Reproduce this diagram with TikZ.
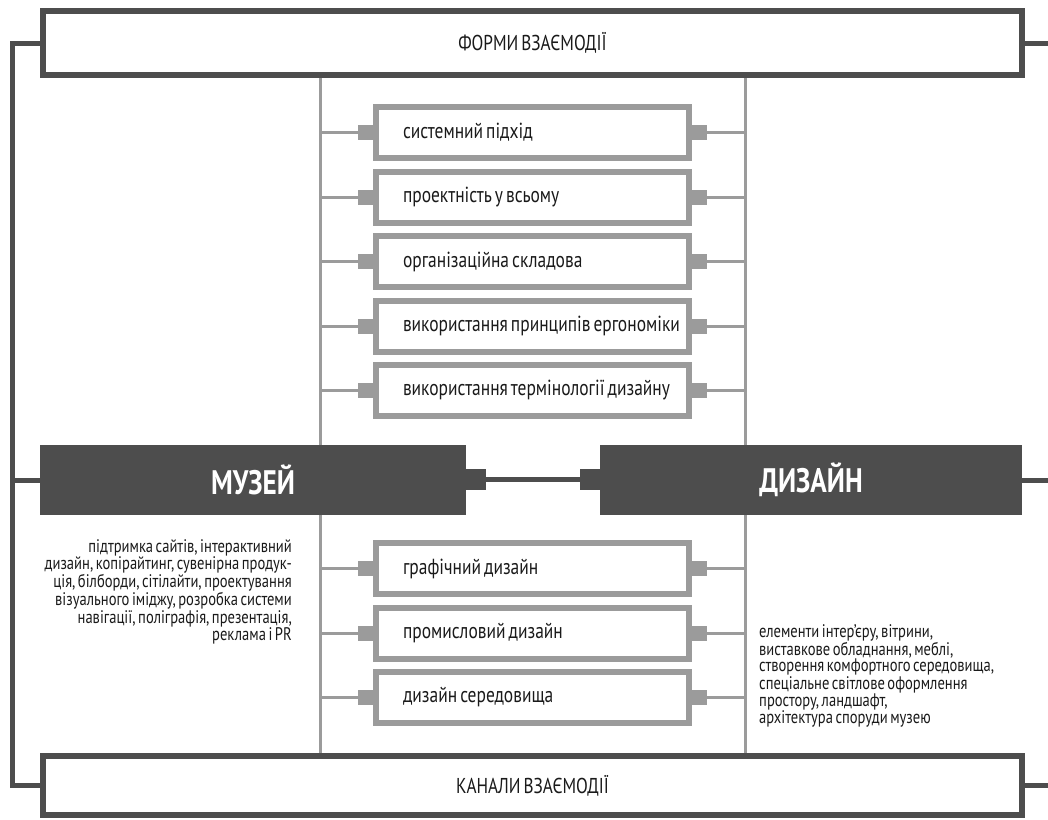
\documentclass[tikz,border=0pt]{standalone}
\usepackage{fontspec}
\setmainfont{PT Sans}[FakeStretch=0.8, WordSpace=0.65]
\definecolor{dk}{HTML}{4D4D4D}
\definecolor{gr}{HTML}{9B9B9B}
\definecolor{tx}{HTML}{1A1A1A}
\begin{document}
\begin{tikzpicture}[x=1pt,y=-1pt,
  outerbox/.style={draw=dk, line width=6pt, fill=white, inner sep=0pt,
    minimum width=979pt, text=tx, font=\fontsize{21.5}{23}\selectfont},
  darkbox/.style={fill=dk, inner sep=0pt, minimum height=70pt, text=white,
    font=\fontsize{34}{36}\selectfont\bfseries},
  dksq/.style={fill=dk, inner sep=0pt, minimum width=20pt, minimum height=21pt},
  graybox/.style={draw=gr, line width=6pt, fill=white, inner sep=0pt,
    minimum width=313pt, minimum height=51pt, text width=259pt, align=flush left,
    text=tx, font=\fontsize{21.8}{23}\selectfont},
  grsq/.style={fill=gr, inner sep=0pt, minimum size=15pt},
  dkline/.style={draw=dk, line width=5pt},
  grline/.style={draw=gr, line width=3pt},
  sidetext/.style={inner sep=0pt, text=tx, text width=250pt,
    font=\fontsize{18.2}{15.2}\selectfont}]
\useasboundingbox (0,0) rectangle (1048,819);
\fill[white] (0,0) rectangle (1048,819);

% guide coordinates
\coordinate (v1) at (320,400);
\coordinate (v2) at (745,400);
\coordinate (lb) at (12.5,480);
\coordinate (rb) at (1050,480);

% outer boxes
\node[outerbox, minimum height=64pt] (top) at (532.5,43) {ФОРМИ ВЗАЄМОДІЇ};
\node[outerbox, minimum height=59pt] (bot) at (532.5,785.5) {КАНАЛИ ВЗАЄМОДІЇ};

% central gray verticals
\draw[grline] (top.south -| v1) -- (bot.north -| v1);
\draw[grline] (top.south -| v2) -- (bot.north -| v2);

% dark main boxes
\node[darkbox, minimum width=426pt] (muz) at (253,480) {МУЗЕЙ};
\node[darkbox, minimum width=422pt] (diz) at (811,480) {ДИЗАЙН};
\node[dksq] (msq) at (476,479.5) {};
\node[dksq] (dsq) at (590,479.5) {};
\draw[dkline] (msq.east) -- (dsq.west);

% left bracket and right stubs
\draw[dkline] (top.west) -| (lb) |- (bot.west);
\draw[dkline] (lb) -- (muz.west);
\draw[dkline] (top.east) -- (top.east -| rb);
\draw[dkline] (diz.east) -- (rb);
\draw[dkline] (bot.east) -- (bot.east -| rb);

% gray item boxes
\foreach \n/\yy/\t in {
  a/132.5/{системний підхід},
  b/197/{проектність у всьому},
  c/261.5/{організаційна складова},
  d/326/{використання принципів ергономіки},
  e/390.5/{використання термінології дизайну},
  f/568.5/{графічний дизайн},
  g/633/{промисловий дизайн},
  h/697.5/{дизайн середовища}}{
  \node[grsq] (l\n) at (365.5,\yy) {};
  \node[grsq] (r\n) at (699.5,\yy) {};
  \node[graybox] (b\n) at (532.5,\yy) {\mbox{\t}};
  \draw[grline] (l\n.west) -- (l\n.west -| v1);
  \draw[grline] (r\n.east) -- (r\n.east -| v2);
}

% side texts
\node[sidetext, anchor=north east, align=flush right] (lt) at (292,539)
 {підтримка сайтів, інтерактивний\\
  дизайн, копірайтинг, сувенірна продук-\\
  ція, білборди, сітілайти, проектування\\
  візуального іміджу, розробка системи\\
  навігації, поліграфія, презентація,\\
  реклама і PR};
\node[sidetext, anchor=north west, align=flush left] (rt) at (759,624)
 {елементи інтер'єру, вітрини,\\
  виставкове обладнання, меблі,\\
  створення комфортного середовища,\\
  спеціальне світлове оформлення\\
  простору, ландшафт,\\
  архітектура споруди музею};
\end{tikzpicture}
\end{document}
